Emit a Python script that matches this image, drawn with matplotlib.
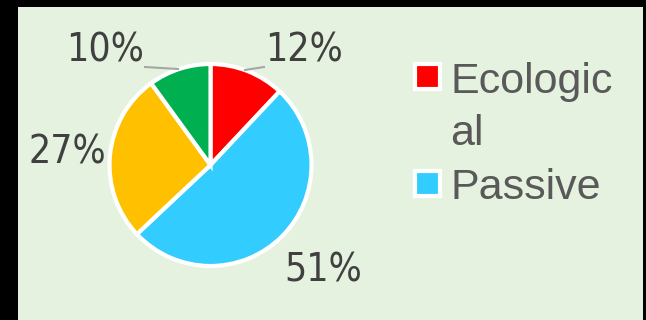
import matplotlib
matplotlib.use("Agg")
import matplotlib.pyplot as plt
from matplotlib.patches import Rectangle

# ---- data ----
categories = ["Ecological", "Passive", "Other A", "Other B"]
values = [12, 51, 27, 10]
pct_labels = ["12%", "51%", "27%", "10%"]
colors = ["#FF0000", "#33CCFF", "#FFC000", "#00B050"]
legend_shown = ["Ecologic", "al", "Passive"]  # wrapped legend text as displayed

W, H = 646, 320
fig = plt.figure(figsize=(W / 100, H / 100), dpi=100)
fig.patch.set_facecolor("black")

# green panel
bg = fig.add_axes([18 / W, 0, (643 - 18) / W, (320 - 7) / H])
bg.set_facecolor("#E6F2E0")
bg.set_xticks([]); bg.set_yticks([])
for s in bg.spines.values():
    s.set_visible(False)

leg_font = ["Liberation Sans", "DejaVu Sans"]

cx, cy, r = 210.5, 165, 101
ax = fig.add_axes([(cx - r) / W, (H - cy - r) / H, 2 * r / W, 2 * r / H])
ax.set_facecolor("none")
ax.pie(values, colors=colors, startangle=90, counterclock=False, radius=1,
       wedgeprops=dict(edgecolor="white", linewidth=3))
ax.set_xlim(-1, 1); ax.set_ylim(-1, 1)
ax.set_aspect("equal")
ax.axis("off")

def d(px, py):
    return ((px - cx) / r, (cy - py) / r)

label_pos = [d(304, 50), d(323, 270), d(67, 153), d(105, 50)]
for t, p in zip(pct_labels, label_pos):
    ax.text(p[0], p[1], t, ha="center", va="center", fontsize=28,
            fontstretch="condensed", color="#404040", family="DejaVu Sans",
            clip_on=False)

# leader lines
for (x0, y0), (x1, y1) in [((145, 67), (178, 69)), ((264, 67), (245, 70))]:
    a, b = d(x0, y0), d(x1, y1)
    ax.plot([a[0], b[0]], [a[1], b[1]], color="#A6A6A6", lw=1.5, clip_on=False)

# legend (manual)
sq = 25
for col, ycen in [(colors[0], 76), (colors[1], 183.5)]:
    fig.patches.append(Rectangle(((427.5 - sq / 2) / W, (H - ycen - sq / 2) / H), sq / W, sq / H,
                                 transform=fig.transFigure, facecolor=col,
                                 edgecolor="white", linewidth=3, zorder=5))
for t, base in zip(legend_shown, [93, 145, 199]):
    fig.text(450 / W, (H - base) / H, t, ha="left", va="baseline", fontsize=31,
             color="#595959", family=leg_font)

fig.savefig("out.png", dpi=100, facecolor=fig.get_facecolor())
